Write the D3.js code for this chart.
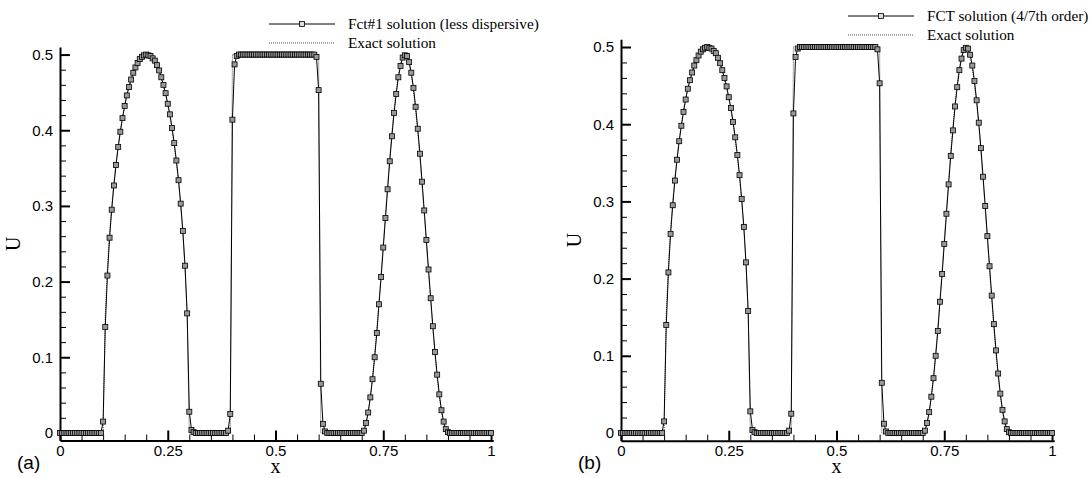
<!DOCTYPE html>
<html>
<head>
<meta charset="utf-8">
<script src="https://cdn.jsdelivr.net/npm/d3@7"></script>
<style>
  body { margin: 0; background: #fff; }
  .tick text { font-family: "Liberation Sans", Arial, sans-serif; font-size: 15px; fill: #000; }
</style>
</head>
<body>
<svg id="chart" width="1091" height="478"></svg>
<script>
// sample points, dx = 0.005 (201 nodes)
const gridX = d3.range(201).map(i => i / 200);

// exact solution, one row per 0.1 in x
const exactU = [
  0,0,0,0,0,0,0,0,0,0,0,0,0,0,0,0,0,0,0,0,
  0,0.156,0.218,0.263,0.300,0.331,0.357,0.380,0.400,0.418,0.433,0.447,0.458,0.468,0.477,0.484,0.490,0.494,0.497,0.499,
  0.500,0.499,0.497,0.494,0.490,0.484,0.477,0.468,0.458,0.447,0.433,0.418,0.400,0.380,0.357,0.331,0.300,0.263,0.218,0.156,
  0,0,0,0,0,0,0,0,0,0,0,0,0,0,0,0,0,0,0,0,
  0.5,0.5,0.5,0.5,0.5,0.5,0.5,0.5,0.5,0.5,0.5,0.5,0.5,0.5,0.5,0.5,0.5,0.5,0.5,0.5,
  0.5,0.5,0.5,0.5,0.5,0.5,0.5,0.5,0.5,0.5,0.5,0.5,0.5,0.5,0.5,0.5,0.5,0.5,0.5,0.5,
  0.5,0,0,0,0,0,0,0,0,0,0,0,0,0,0,0,0,0,0,0,
  0,0.003,0.012,0.027,0.048,0.073,0.103,0.137,0.173,0.211,0.250,0.289,0.327,0.364,0.397,0.427,0.452,0.473,0.488,0.497,
  0.500,0.497,0.488,0.473,0.452,0.427,0.397,0.364,0.327,0.289,0.250,0.211,0.173,0.137,0.103,0.073,0.048,0.027,0.012,0.003,
  0,0,0,0,0,0,0,0,0,0,0,0,0,0,0,0,0,0,0,0,
  0
];

// Fct#1 (less dispersive)
const fctA = [
  0,0,0,0,0,0,0,0,0,0,0,0,0,0,0,0,0,0,0,0,
  0.015,0.140,0.208,0.258,0.295,0.327,0.354,0.378,0.398,0.416,0.432,0.446,0.457,0.467,0.476,0.483,0.489,0.494,0.497,0.499,
  0.500,0.499,0.498,0.495,0.492,0.486,0.479,0.470,0.460,0.449,0.435,0.421,0.403,0.383,0.360,0.334,0.303,0.267,0.221,0.158,
  0.028,0.004,0.001,0,0,0,0,0,0,0,0,0,0,0,0,0,0,0,0.003,0.025,
  0.414,0.487,0.498,0.5,0.5,0.5,0.5,0.5,0.5,0.5,0.5,0.5,0.5,0.5,0.5,0.5,0.5,0.5,0.5,0.5,
  0.5,0.5,0.5,0.5,0.5,0.5,0.5,0.5,0.5,0.5,0.5,0.5,0.5,0.5,0.5,0.5,0.5,0.5,0.5,0.497,
  0.453,0.065,0.012,0.002,0,0,0,0,0,0,0,0,0,0,0,0,0,0,0,0,
  0,0.003,0.013,0.027,0.047,0.071,0.100,0.132,0.170,0.206,0.245,0.284,0.322,0.359,0.392,0.423,0.448,0.470,0.485,0.496,
  0.499,0.498,0.490,0.476,0.456,0.431,0.402,0.369,0.332,0.294,0.255,0.216,0.178,0.141,0.107,0.077,0.051,0.030,0.015,0.005,
  0.001,0,0,0,0,0,0,0,0,0,0,0,0,0,0,0,0,0,0,0,
  0
];

// FCT (4/7th order)
const fctB = [
  0,0,0,0,0,0,0,0,0,0,0,0,0,0,0,0,0,0,0,0,
  0.015,0.140,0.208,0.258,0.295,0.327,0.354,0.378,0.398,0.416,0.432,0.446,0.457,0.467,0.476,0.483,0.489,0.494,0.497,0.499,
  0.500,0.499,0.498,0.495,0.492,0.486,0.479,0.470,0.460,0.449,0.435,0.421,0.403,0.383,0.360,0.334,0.303,0.267,0.221,0.158,
  0.028,0.004,0.001,0,0,0,0,0,0,0,0,0,0,0,0,0,0,0,0.003,0.025,
  0.414,0.487,0.498,0.5,0.5,0.5,0.5,0.5,0.5,0.5,0.5,0.5,0.5,0.5,0.5,0.5,0.5,0.5,0.5,0.5,
  0.5,0.5,0.5,0.5,0.5,0.5,0.5,0.5,0.5,0.5,0.5,0.5,0.5,0.5,0.5,0.5,0.5,0.5,0.5,0.497,
  0.453,0.065,0.012,0.002,0,0,0,0,0,0,0,0,0,0,0,0,0,0,0,0,
  0,0.003,0.013,0.027,0.047,0.071,0.100,0.132,0.170,0.206,0.245,0.284,0.322,0.359,0.392,0.423,0.448,0.470,0.485,0.496,
  0.499,0.498,0.490,0.476,0.456,0.431,0.402,0.369,0.332,0.294,0.255,0.216,0.178,0.141,0.107,0.077,0.051,0.030,0.015,0.005,
  0.001,0,0,0,0,0,0,0,0,0,0,0,0,0,0,0,0,0,0,0,
  0
];

const xMajor = [0, 0.25, 0.5, 0.75, 1];
const xMinor = [0.05, 0.1, 0.15, 0.2, 0.3, 0.35, 0.4, 0.45, 0.55, 0.6, 0.65, 0.7, 0.8, 0.85, 0.9, 0.95];
const yMajor = [0, 0.1, 0.2, 0.3, 0.4, 0.5];
const yMinor = [0.02, 0.04, 0.06, 0.08, 0.12, 0.14, 0.16, 0.18, 0.22, 0.24, 0.26, 0.28,
                0.32, 0.34, 0.36, 0.38, 0.42, 0.44, 0.46, 0.48];

const panels = [
  { values: fctA, name: 'Fct#1 solution (less dispersive)', tag: '(a)',
    left: 60, right: 493.2, top: 47, bottom: 440.5,
    legX: 269, legY: 24, legFont: 15.3 },
  { values: fctB, name: 'FCT solution (4/7th order)', tag: '(b)',
    left: 621, right: 1054.2, top: 39.3, bottom: 440.7,
    legX: 848, legY: 16, legFont: 15.2 }
];

const svg = d3.select('#chart');
const serif = '"Liberation Serif", "Times New Roman", serif';

panels.forEach(p => {
  const x = d3.scaleLinear().domain([0, 1.005]).range([p.left, p.right]);
  const y = d3.scaleLinear().domain([-0.01, 0.51]).range([p.bottom, p.top]);
  const g = svg.append('g');

  // minor ticks first, spines drawn by the major axes
  g.append('g')
    .attr('transform', `translate(${p.left},0)`)
    .call(d3.axisLeft(y).tickValues(yMinor).tickSizeInner(-6).tickSizeOuter(0).tickFormat(''))
    .call(a => a.select('.domain').remove())
    .selectAll('line').attr('stroke-width', 1);
  g.append('g')
    .attr('transform', `translate(0,${p.bottom})`)
    .call(d3.axisBottom(x).tickValues(xMinor).tickSizeInner(-6).tickSizeOuter(0).tickFormat(''))
    .call(a => a.select('.domain').remove())
    .selectAll('line').attr('stroke-width', 1);

  const yAxis = g.append('g')
    .attr('transform', `translate(${p.left},0)`)
    .call(d3.axisLeft(y).tickValues(yMajor).tickSizeInner(-10).tickSizeOuter(0)
      .tickPadding(7).tickFormat(d => String(d)));
  const xAxis = g.append('g')
    .attr('transform', `translate(0,${p.bottom})`)
    .call(d3.axisBottom(x).tickValues(xMajor).tickSizeInner(-10).tickSizeOuter(0)
      .tickPadding(5).tickFormat(d => String(d)));
  [yAxis, xAxis].forEach(a => {
    a.select('.domain').attr('stroke-width', 2);
    a.selectAll('.tick line').attr('stroke-width', 2);
  });

  // exact solution (dotted)
  const line = d3.line().x((d, i) => x(gridX[i])).y(d => y(d));
  g.append('path')
    .datum(exactU)
    .attr('fill', 'none')
    .attr('stroke', '#444')
    .attr('stroke-width', 0.9)
    .attr('stroke-dasharray', '1,1')
    .attr('d', line);

  // numerical solution
  g.append('path')
    .datum(p.values)
    .attr('fill', 'none')
    .attr('stroke', '#000')
    .attr('stroke-width', 1)
    .attr('d', line);

  g.selectAll('.mk')
    .data(p.values)
    .join('rect')
    .attr('class', 'mk')
    .attr('x', (d, i) => x(gridX[i]) - 2.5)
    .attr('y', d => y(d) - 2.5)
    .attr('width', 5)
    .attr('height', 5)
    .attr('fill', '#999')
    .attr('stroke', '#000')
    .attr('stroke-width', 0.8);

  // legend
  const leg = g.append('g');
  leg.append('line')
    .attr('x1', p.legX).attr('x2', p.legX + 66)
    .attr('y1', p.legY).attr('y2', p.legY)
    .attr('stroke', '#000').attr('stroke-width', 1);
  leg.append('rect')
    .attr('x', p.legX + 33 - 2.5).attr('y', p.legY - 2.5)
    .attr('width', 5).attr('height', 5)
    .attr('fill', '#ddd').attr('stroke', '#000').attr('stroke-width', 0.8);
  leg.append('line')
    .attr('x1', p.legX).attr('x2', p.legX + 66)
    .attr('y1', p.legY + 19).attr('y2', p.legY + 19)
    .attr('stroke', '#444').attr('stroke-width', 0.9).attr('stroke-dasharray', '1,1');
  leg.append('text')
    .attr('x', p.legX + 79).attr('y', p.legY + 5)
    .attr('font-family', serif)
    .attr('font-size', p.legFont)
    .text(p.name);
  leg.append('text')
    .attr('x', p.legX + 79).attr('y', p.legY + 24)
    .attr('font-family', serif)
    .attr('font-size', p.legFont)
    .text('Exact solution');

  // axis titles
  g.append('text')
    .attr('x', x(0.5))
    .attr('y', 473)
    .attr('text-anchor', 'middle')
    .attr('font-family', serif)
    .attr('font-size', 20)
    .text('x');
  g.append('text')
    .attr('transform', `translate(${p.left - 40},${(p.top + p.bottom) / 2}) rotate(-90)`)
    .attr('text-anchor', 'middle')
    .attr('font-family', serif)
    .attr('font-size', 20)
    .text('U');

  g.append('text')
    .attr('x', p.left - 43)
    .attr('y', 469)
    .attr('font-family', '"Liberation Sans", Arial, sans-serif')
    .attr('font-size', 19)
    .text(p.tag);
});
</script>
</body>
</html>
